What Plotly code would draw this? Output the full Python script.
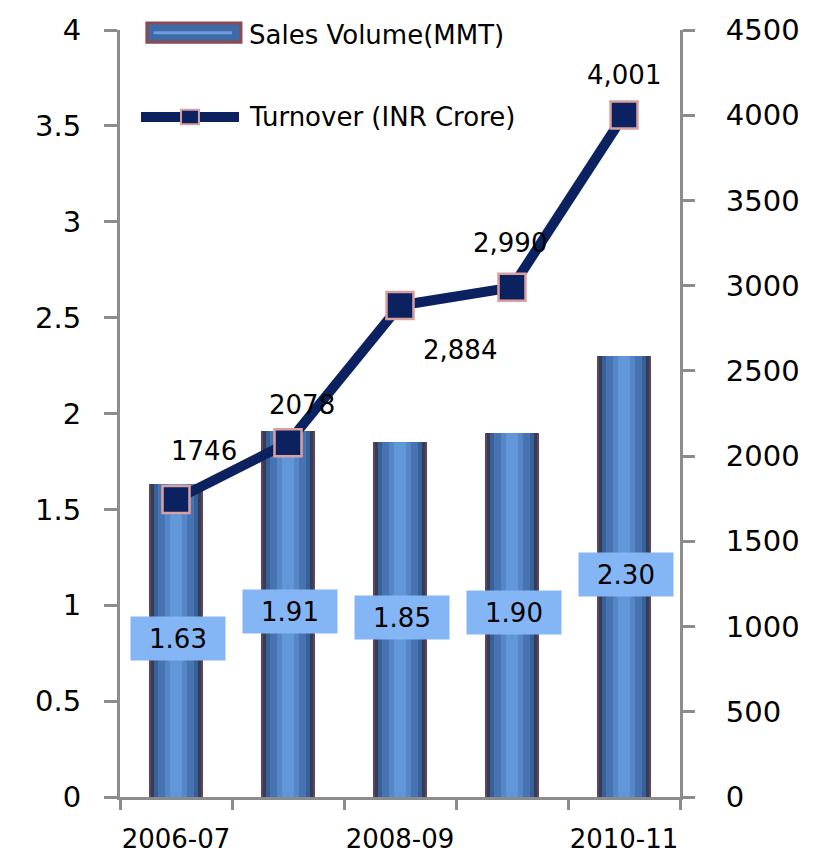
import plotly.graph_objects as go

# Financial years and the two reported series
years = ["2006-07", "2007-08", "2008-09", "2009-10", "2010-11"]
sales_volume_mmt = [1.63, 1.91, 1.85, 1.90, 2.30]
turnover_inr_crore = [1746, 2078, 2884, 2990, 4001]
turnover_labels = ["1746", "2078", "2,884", "2,990", "4,001"]
labelled_years = ["2006-07", "2008-09", "2010-11"]

x_pos = list(range(len(years)))
label_pos = [years.index(y) for y in labelled_years]

FONT = "DejaVu Sans"
NAVY = "#0b2160"
AXIS_GREY = "#8c8c8c"

fig = go.Figure()

# Cylinder-like bars built from overlaid layers (rim -> dark edge -> highlight)
bar_layers = [
    (0.48, "#6e4249"),
    (0.44, "#2a3f62"),
    (0.40, "#3a5f95"),
    (0.32, "#4674b2"),
    (0.20, "#5486c8"),
    (0.10, "#6196d8"),
]
for w, c in bar_layers:
    fig.add_trace(go.Bar(
        x=x_pos, y=sales_volume_mmt, width=w,
        marker=dict(color=c, line=dict(width=0)),
        showlegend=False, hoverinfo="skip", yaxis="y",
    ))

# Turnover line on the secondary axis
fig.add_trace(go.Scatter(
    x=x_pos, y=turnover_inr_crore, yaxis="y2",
    mode="lines+markers",
    line=dict(color=NAVY, width=10),
    marker=dict(symbol="square", size=27, color=NAVY,
                line=dict(color="#d9a0a0", width=2.5)),
    showlegend=False,
))

annotations = []
# Value boxes in the middle of each bar
for xi, v in zip(x_pos, sales_volume_mmt):
    annotations.append(dict(
        x=xi, y=v / 2, xref="x", yref="y", text=f"{v:.2f}",
        showarrow=False, font=dict(family=FONT, size=26, color="black"),
        bgcolor="#84b6f6", width=92, height=41, xshift=2, yshift=2,
    ))

# Turnover labels with individual offsets
offsets = [(28, 48), (14, 38), (60, -45), (-2, 44), (0, 40)]
for xi, v, t, (dx, dy) in zip(x_pos, turnover_inr_crore, turnover_labels, offsets):
    annotations.append(dict(
        x=xi, y=v, xref="x", yref="y2", text=t, showarrow=False,
        font=dict(family=FONT, size=26, color="black"),
        xshift=dx, yshift=dy,
    ))

# Legend drawn by hand
annotations.append(dict(
    x=0.227, y=0.993, xref="paper", yref="paper", text="Sales Volume(MMT)",
    showarrow=False, xanchor="left", yanchor="middle",
    font=dict(family=FONT, size=26, color="black"),
))
annotations.append(dict(
    x=0.227, y=0.8866, xref="paper", yref="paper", text="Turnover (INR Crore)",
    showarrow=False, xanchor="left", yanchor="middle",
    font=dict(family=FONT, size=26, color="black"),
))

shapes = [
    dict(type="rect", xref="paper", yref="paper", x0=0.048, x1=0.216,
         y0=0.984, y1=1.009, fillcolor="#3f6aa6",
         line=dict(color="#8a4a52", width=3)),
    dict(type="line", xref="paper", yref="paper", x0=0.06, x1=0.20,
         y0=0.9965, y1=0.9965, line=dict(color="#6a9ee0", width=3)),
    dict(type="line", xref="paper", yref="paper", x0=0.0375, x1=0.2125,
         y0=0.8866, y1=0.8866, line=dict(color=NAVY, width=10)),
    dict(type="rect", xref="paper", yref="paper", x0=0.109, x1=0.141,
         y0=0.877, y1=0.896, fillcolor=NAVY,
         line=dict(color="#d9a0a0", width=2)),
]

fig.update_layout(
    width=825, height=858,
    margin=dict(l=120, r=145, t=30, b=61),
    paper_bgcolor="white", plot_bgcolor="white",
    barmode="overlay", bargap=0,
    font=dict(family=FONT, size=26, color="black"),
    annotations=annotations, shapes=shapes,
    xaxis=dict(
        range=[-0.5, 4.5], tickvals=label_pos, ticktext=labelled_years,
        ticks="", showgrid=False, zeroline=False, automargin=False,
        showline=True, linecolor=AXIS_GREY, linewidth=3,
        tickfont=dict(family=FONT, size=26), ticklabelstandoff=17,
        minor=dict(tickvals=[i - 0.5 for i in range(len(years) + 1)],
                   ticks="outside", ticklen=10, tickwidth=3,
                   tickcolor=AXIS_GREY, showgrid=False),
    ),
    yaxis=dict(
        range=[0, 4], dtick=0.5, ticks="outside", ticklen=13, tickwidth=3,
        tickcolor=AXIS_GREY, showgrid=False, zeroline=False, automargin=False,
        showline=True, linecolor=AXIS_GREY, linewidth=3,
        tickfont=dict(family=FONT, size=29), ticklabelstandoff=17,
    ),
    yaxis2=dict(
        range=[0, 4500], dtick=500, overlaying="y", side="right",
        ticks="outside", ticklen=12, tickwidth=3, tickcolor=AXIS_GREY,
        showgrid=False, zeroline=False, automargin=False,
        showline=True, linecolor=AXIS_GREY, linewidth=3,
        tickfont=dict(family=FONT, size=29), ticklabelstandoff=25,
    ),
    yaxis3=dict(
        range=[0, 4500], dtick=500, overlaying="y", side="right", anchor="x",
        ticks="inside", ticklen=13, tickwidth=3, tickcolor=AXIS_GREY,
        showticklabels=False, showgrid=False, zeroline=False, showline=False,
        automargin=False,
    ),
)

fig.write_html("out.html")
